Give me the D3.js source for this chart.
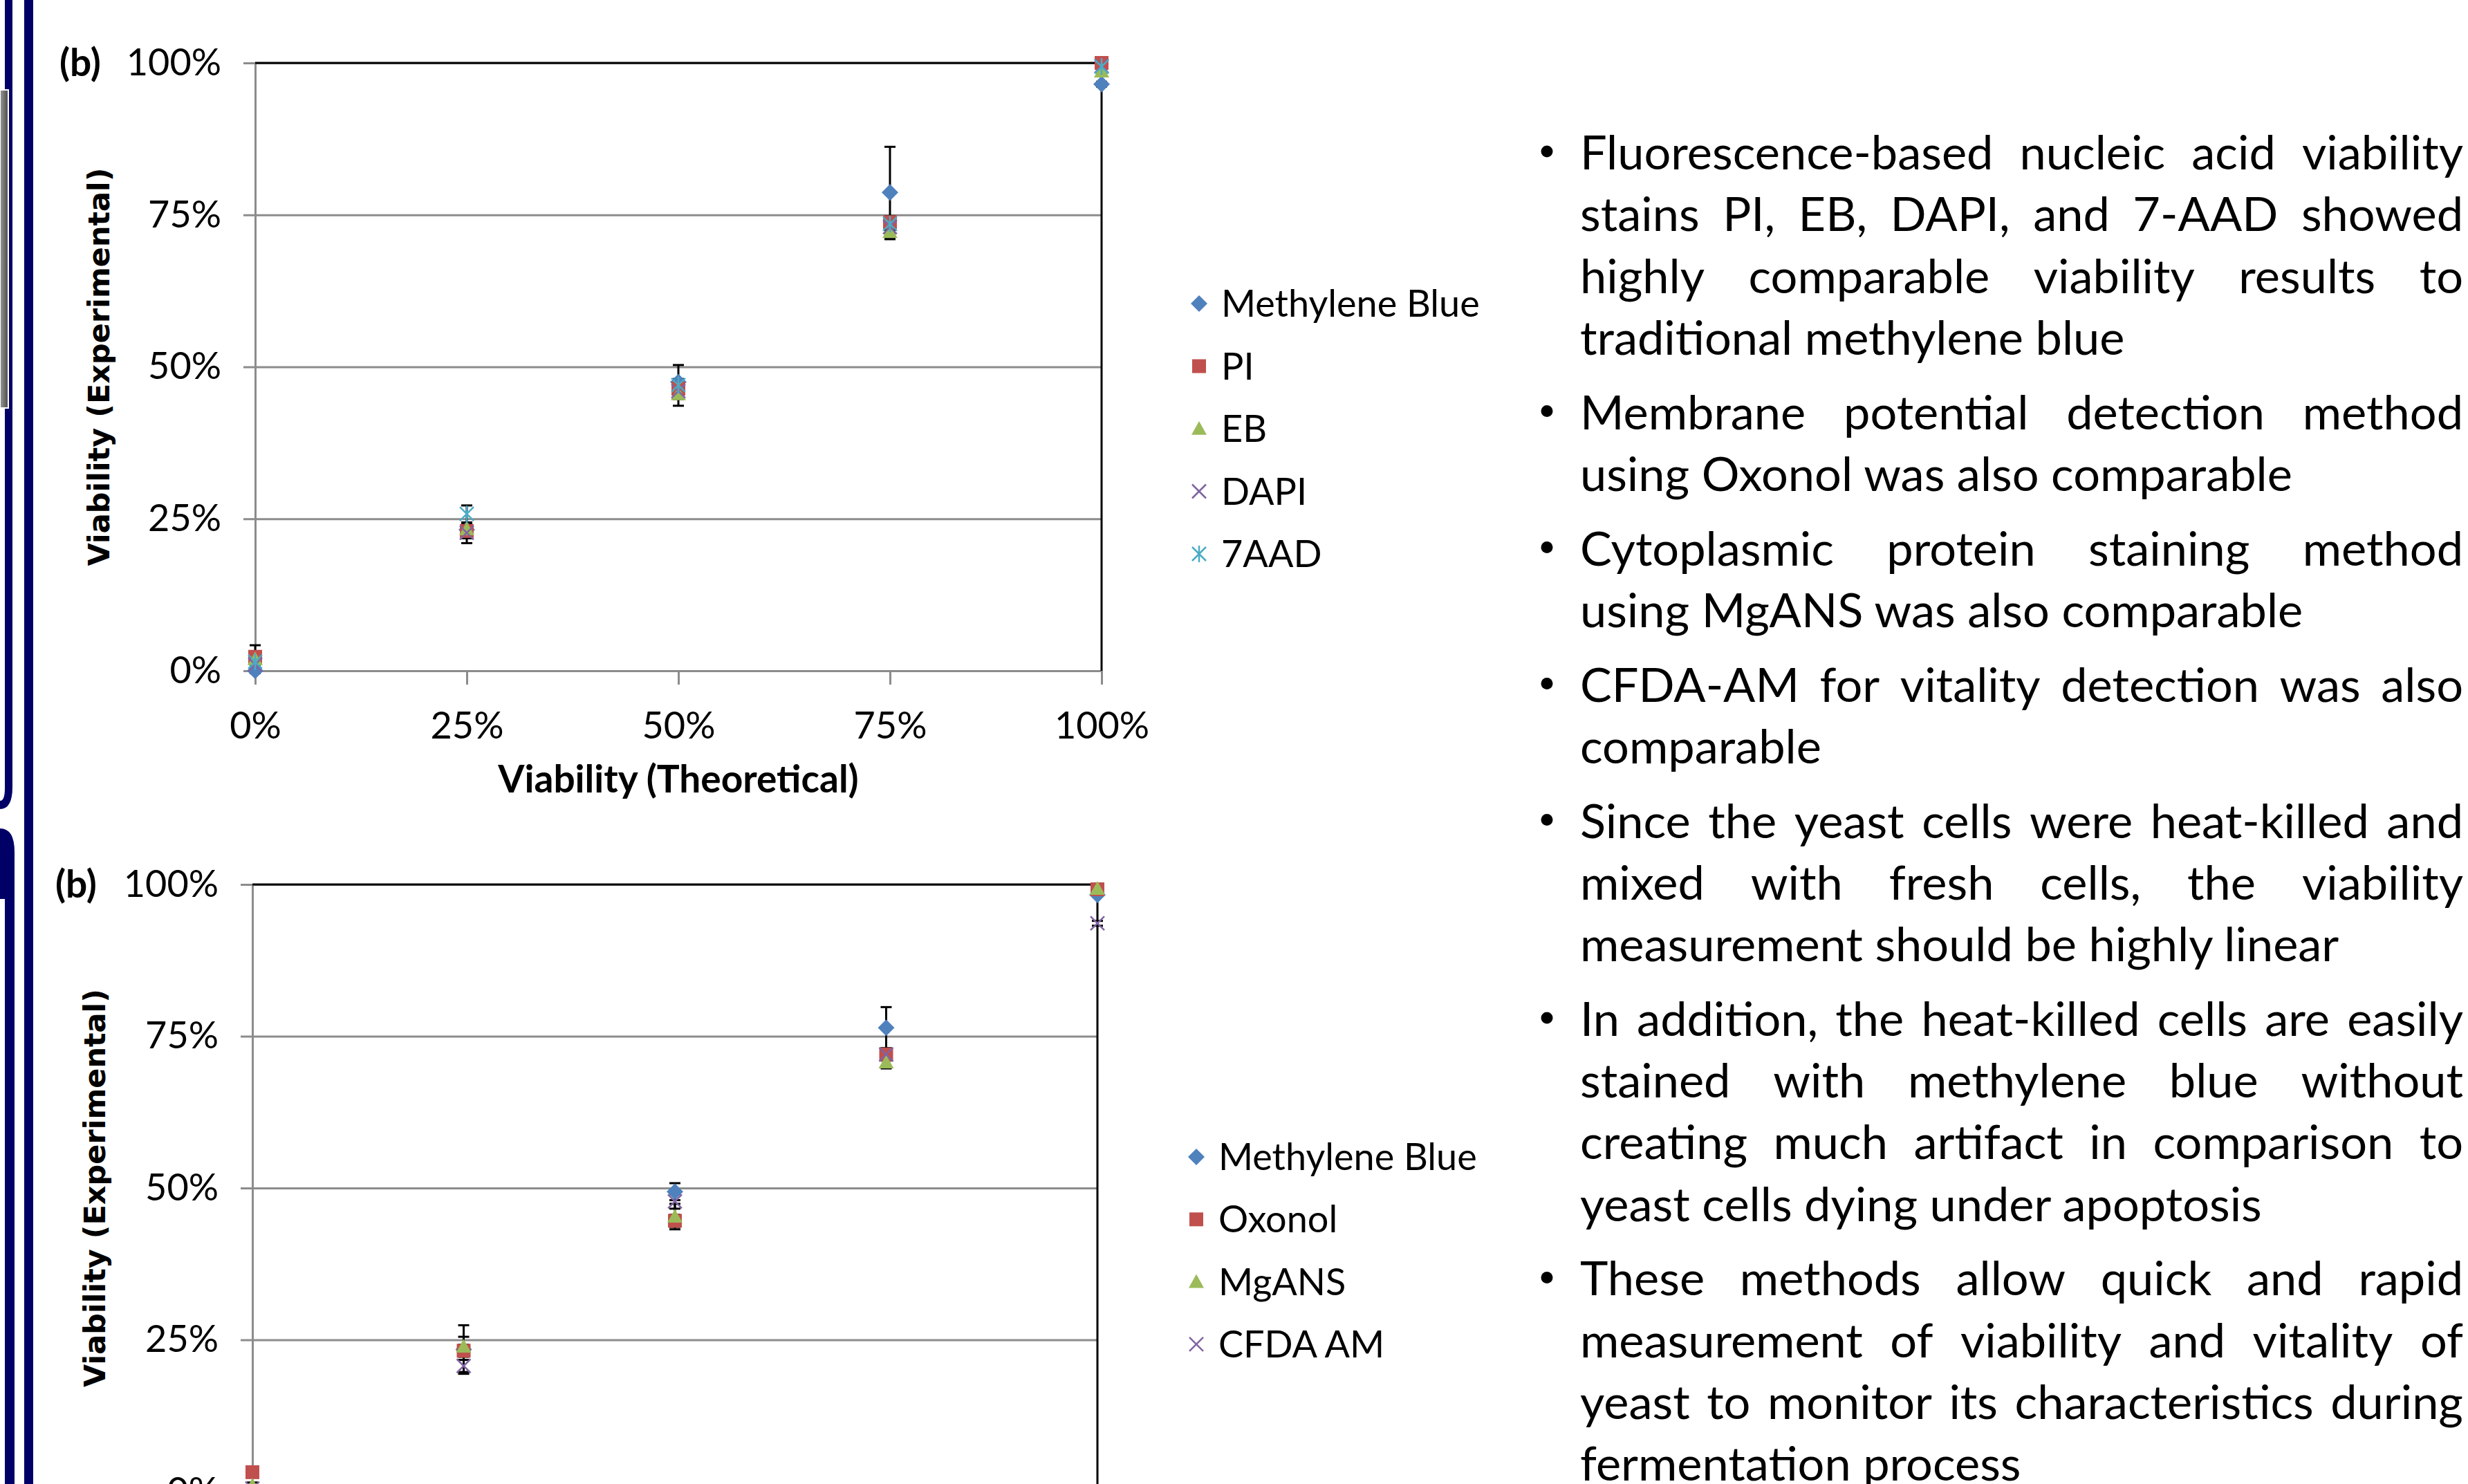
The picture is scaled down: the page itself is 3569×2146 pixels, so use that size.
<!DOCTYPE html>
<html>
<head>
<meta charset="utf-8">
<script src="https://cdn.jsdelivr.net/npm/d3@7"></script>
<style>
  body { margin: 0; background: #fff; }
  svg { display: block; }
</style>
</head>
<body>
<script>
// ---- data ----
const theoretical = [0, 0.25, 0.5, 0.75, 1]
const tickValues = [0, 0.25, 0.5, 0.75, 1]

// chart 1: nucleic acid stains
const topNames = ['Methylene Blue', 'PI', 'EB', 'DAPI', '7AAD']
const topMB = [0.0, 0.232, 0.475, 0.787, 0.965]
const topMBErr = [0.004, 0.01, 0.028, 0.075, 0.004]
const topPI = [0.023, 0.23, 0.464, 0.738, 1.0]
const topPIErr = [0.019, 0.012, 0.01, 0.01, 0.0]
const topEB = [0.019, 0.233, 0.455, 0.722, 0.986]
const topEBErr = [0.01, 0.01, 0.019, 0.012, 0.004]
const topDAPI = [0.01, 0.227, 0.46, 0.73, 0.995]
const topDAPIErr = [0.005, 0.017, 0.01, 0.01, 0.0]
const top7AAD = [0.015, 0.258, 0.47, 0.735, 0.994]
const top7AADErr = [0.005, 0.014, 0.01, 0.01, 0.0]

// chart 2: membrane / protein / vitality stains
const bottomNames = ['Methylene Blue', 'Oxonol', 'MgANS', 'CFDA AM']
const botMB = [0.0, 0.234, 0.494, 0.764, 0.983]
const botMBErr = [0.004, 0.04, 0.014, 0.034, 0.003]
const botOxonol = [0.032, 0.232, 0.446, 0.72, 0.992]
const botOxonolErr = [0.005, 0.01, 0.01, 0.01, 0.003]
const botMgANS = [0.01, 0.239, 0.453, 0.707, 0.993]
const botMgANSErr = [0.005, 0.016, 0.021, 0.01, 0.003]
const botCFDA = [0.005, 0.207, 0.478, 0.72, 0.936]
const botCFDAErr = [0.005, 0.01, 0.012, 0.01, 0.004]

const bullets = [
  ['Fluorescence-based nucleic acid viability', 'stains PI, EB, DAPI, and 7-AAD showed', 'highly comparable viability results to', 'traditional methylene blue'],
  ['Membrane potential detection method', 'using Oxonol was also comparable'],
  ['Cytoplasmic protein staining method', 'using MgANS was also comparable'],
  ['CFDA-AM for vitality detection was also', 'comparable'],
  ['Since the yeast cells were heat-killed and', 'mixed with fresh cells, the viability', 'measurement should be highly linear'],
  ['In addition, the heat-killed cells are easily', 'stained with methylene blue without', 'creating much artifact in comparison to', 'yeast cells dying under apoptosis'],
  ['These methods allow quick and rapid', 'measurement of viability and vitality of', 'yeast to monitor its characteristics during', 'fermentation process']
]

// ---- page ----
const W = 3569, H = 2146
const navy = '#000066'
const chartFont = 'Lato, "Open Sans", sans-serif'

const svg = d3.select('body').append('svg')
  .attr('width', W)
  .attr('height', H)

// slide decorations on the left edge
const defs = svg.append('defs')
const grad = defs.append('linearGradient').attr('id', 'greyBox').attr('x1', 0).attr('x2', 1)
grad.append('stop').attr('offset', 0).attr('stop-color', '#9a9a9a')
grad.append('stop').attr('offset', 1).attr('stop-color', '#4a4a4a')

svg.append('rect').attr('x', 35).attr('y', 0).attr('width', 13).attr('height', H).attr('fill', navy)
svg.append('path').attr('fill', navy)
  .attr('d', 'M7,0 H18 V1138 Q18,1170 0,1170 V1158 Q7,1158 7,1140 Z')
svg.append('path').attr('fill', navy)
  .attr('d', 'M0,1198 Q21,1198 21,1232 V2146 H7 V1300 H0 Z')
svg.append('rect').attr('x', 0).attr('y', 130).attr('width', 12).attr('height', 460)
  .attr('fill', 'url(#greyBox)').attr('stroke', '#fff').attr('stroke-width', 2)

// marker shapes (size = half width in px)
const diamond = { draw(ctx, r) { ctx.moveTo(0, -r); ctx.lineTo(r, 0); ctx.lineTo(0, r); ctx.lineTo(-r, 0); ctx.closePath() } }
const square = { draw(ctx, r) { ctx.rect(-r, -r, 2 * r, 2 * r) } }
const triangle = { draw(ctx, r) { ctx.moveTo(0, -r); ctx.lineTo(r, r * 0.8); ctx.lineTo(-r, r * 0.8); ctx.closePath() } }
const cross = { draw(ctx, r) { ctx.moveTo(-r, -r); ctx.lineTo(r, r); ctx.moveTo(-r, r); ctx.lineTo(r, -r) } }
const asterisk = { draw(ctx, r) { ctx.moveTo(-r, -r); ctx.lineTo(r, r); ctx.moveTo(-r, r); ctx.lineTo(r, -r); ctx.moveTo(0, -r * 1.2); ctx.lineTo(0, r * 1.2) } }

const styles = [
  { type: diamond, r: 12, fill: '#4F81BD' },
  { type: square, r: 10, fill: '#C0504D' },
  { type: triangle, r: 11, fill: '#9BBB59' },
  { type: cross, r: 10, stroke: '#8064A2' },
  { type: asterisk, r: 10, stroke: '#4BACC6' }
]

const marker = (g, style) => {
  g.append('path')
    .attr('d', d3.symbol().type(style.type).size(style.r)())
    .attr('fill', style.fill || 'none')
    .attr('stroke', style.stroke || 'none')
    .attr('stroke-width', style.stroke ? 2.5 : 0)
}

function drawChart(cfg) {
  const x = d3.scaleLinear().domain([0, 1]).range([cfg.left, cfg.right])
  const y = d3.scaleLinear().domain([0, 1]).range([cfg.bottom, cfg.top])
  const g = svg.append('g')

  // gridlines
  const grid = g.append('g')
    .attr('transform', `translate(${cfg.left}, 0)`)
    .call(d3.axisLeft(y).tickValues(tickValues).tickSize(-(cfg.right - cfg.left)).tickFormat(''))
  grid.select('.domain').remove()
  grid.selectAll('line').attr('stroke', '#8c8c8c').attr('stroke-width', 3)

  // y axis
  const yAxisGroup = g.append('g')
    .attr('transform', `translate(${cfg.left}, 0)`)
    .call(d3.axisLeft(y).tickValues(tickValues).tickFormat(d3.format('.0%')).tickSizeInner(17).tickSizeOuter(0).tickPadding(32))
  yAxisGroup.select('.domain').attr('stroke', '#8c8c8c').attr('stroke-width', 3)
  yAxisGroup.selectAll('line').attr('stroke', '#8c8c8c').attr('stroke-width', 3)
  yAxisGroup.selectAll('text').attr('font-family', chartFont).attr('font-size', 54).attr('fill', '#000')

  // x axis
  const xAxisGroup = g.append('g')
    .attr('transform', `translate(0, ${cfg.bottom})`)
    .call(d3.axisBottom(x).tickValues(tickValues).tickFormat(d3.format('.0%')).tickSizeInner(20).tickSizeOuter(0).tickPadding(40))
  xAxisGroup.select('.domain').attr('stroke', '#8c8c8c').attr('stroke-width', 3)
  xAxisGroup.selectAll('line').attr('stroke', '#8c8c8c').attr('stroke-width', 3)
  xAxisGroup.selectAll('text').attr('font-family', chartFont).attr('font-size', 54).attr('fill', '#000')

  // black top and right border
  g.append('path')
    .attr('d', `M${cfg.left},${y(1)} H${x(1)} V${cfg.bottom}`)
    .attr('fill', 'none').attr('stroke', '#000').attr('stroke-width', 3)

  // error bars
  cfg.series.forEach(s => {
    const eg = g.append('g').attr('stroke', '#000').attr('stroke-width', 3)
    theoretical.forEach((t, i) => {
      const e = s.err[i]
      if (!e) return
      const cx = x(t), y1 = y(s.values[i] + e), y2 = y(s.values[i] - e)
      eg.append('line').attr('x1', cx).attr('x2', cx).attr('y1', y1).attr('y2', y2)
      eg.append('line').attr('x1', cx - 8).attr('x2', cx + 8).attr('y1', y1).attr('y2', y1)
      eg.append('line').attr('x1', cx - 8).attr('x2', cx + 8).attr('y1', y2).attr('y2', y2)
    })
  })

  // points
  cfg.series.forEach((s, si) => {
    theoretical.forEach((t, i) => {
      const pg = g.append('g').attr('transform', `translate(${x(t)}, ${y(s.values[i])})`)
      marker(pg, styles[si])
    })
  })

  // titles
  g.append('text')
    .attr('x', cfg.panelX).attr('y', cfg.top + 19)
    .attr('font-family', chartFont).attr('font-weight', 'bold').attr('font-size', 55)
    .text('(b)')

  if (cfg.xTitle) {
    g.append('text')
      .attr('x', (cfg.left + cfg.right) / 2).attr('y', cfg.bottom + 176)
      .attr('text-anchor', 'middle')
      .attr('font-family', chartFont).attr('font-weight', 'bold').attr('font-size', 55)
      .text(cfg.xTitle)
  }

  g.append('text')
    .attr('transform', `translate(${cfg.yTitleX}, ${(cfg.top + cfg.bottom) / 2}) rotate(-90)`)
    .attr('text-anchor', 'middle')
    .attr('dy', '0.36em')
    .attr('font-family', '"DejaVu Sans", Verdana, sans-serif').attr('font-weight', 'bold').attr('font-size', 43)
    .text('Viability (Experimental)')

  // legend
  const lg = g.append('g')
  cfg.series.forEach((s, si) => {
    const ry = cfg.legendY + si * cfg.legendStep
    const mg = lg.append('g').attr('transform', `translate(${cfg.legendX}, ${ry})`)
    marker(mg, styles[si])
    lg.append('text')
      .attr('x', cfg.legendX + 32).attr('y', ry + 19)
      .attr('font-family', chartFont).attr('font-size', 54)
      .text(s.name)
  })
}

drawChart({
  left: 369, right: 1593, top: 91, bottom: 970,
  panelX: 86, yTitleX: 143,
  xTitle: 'Viability (Theoretical)',
  legendX: 1734, legendY: 439, legendStep: 90.5,
  series: [
    { name: topNames[0], values: topMB, err: topMBErr },
    { name: topNames[1], values: topPI, err: topPIErr },
    { name: topNames[2], values: topEB, err: topEBErr },
    { name: topNames[3], values: topDAPI, err: topDAPIErr },
    { name: topNames[4], values: top7AAD, err: top7AADErr }
  ]
})

drawChart({
  left: 365, right: 1587, top: 1279, bottom: 2157,
  panelX: 80, yTitleX: 137,
  xTitle: null,
  legendX: 1730, legendY: 1673, legendStep: 90.3,
  series: [
    { name: bottomNames[0], values: botMB, err: botMBErr },
    { name: bottomNames[1], values: botOxonol, err: botOxonolErr },
    { name: bottomNames[2], values: botMgANS, err: botMgANSErr },
    { name: bottomNames[3], values: botCFDA, err: botCFDAErr }
  ]
})

// ---- bullet text (justified) ----
const bodySize = 68.5
const textLeft = 2285, textRight = 3562, bulletX = 2237
const lineH = 89.3, paraGap = 18.4
const textG = svg.append('g')
  .attr('font-family', chartFont)
  .attr('font-size', bodySize)
  .attr('fill', '#000')

// measure single words with a throwaway text node
const measure = word => {
  const t = textG.append('text').text(word)
  const w = t.node().getComputedTextLength()
  t.remove()
  return w
}

let lineY = 221
bullets.forEach(para => {
  textG.append('circle').attr('cx', bulletX).attr('cy', lineY - 2).attr('r', 8.5)
  para.forEach((line, li) => {
    const base = lineY + bodySize * 0.35
    if (li === para.length - 1) {
      textG.append('text').attr('x', textLeft).attr('y', base).text(line)
    } else {
      const words = line.split(' ')
      const widths = words.map(measure)
      const gap = (textRight - textLeft - d3.sum(widths)) / (words.length - 1)
      let cx = textLeft
      const xs = widths.map(w => { const v = cx; cx += w + gap; return v })
      textG.selectAll(null)
        .data(words)
        .join('text')
        .attr('x', (d, i) => xs[i])
        .attr('y', base)
        .text(d => d)
    }
    lineY += lineH
  })
  lineY += paraGap
})
</script>
</body>
</html>
